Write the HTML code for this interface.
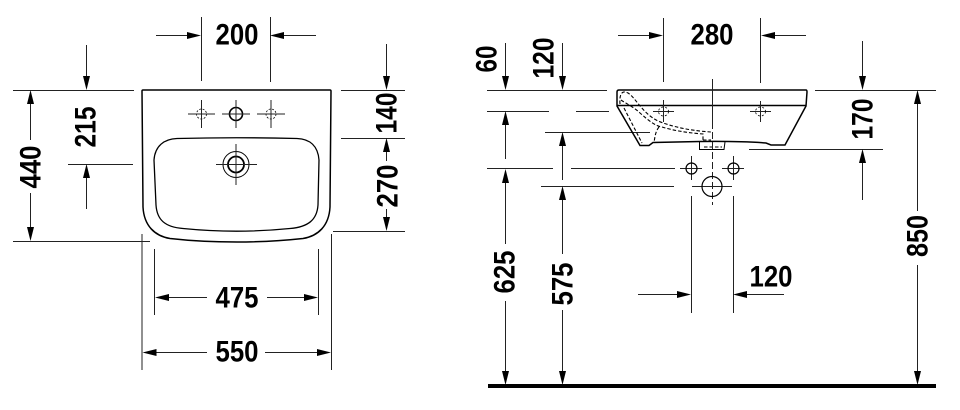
<!DOCTYPE html>
<html><head><meta charset="utf-8"><style>
html,body{margin:0;padding:0;background:#fff}
svg{display:block}
text{font-family:"Liberation Sans",sans-serif;font-weight:bold;font-size:29.5px;fill:#000;text-anchor:middle}
</style></head><body>
<svg width="960" height="410" viewBox="0 0 960 410" xmlns="http://www.w3.org/2000/svg">
<g fill="none" stroke="#222" stroke-width="1">
<!-- left ext lines -->
<path d="M201.500 17V81M270.500 17V82M13 90.500H134M13 241.500H150M68 164.500H133M341 90.500H405M341 138.500H405M333 231.500H405M154.500 249V315M318.500 249V315M142 234V370M331.500 234V370"/>
<!-- left dim lines -->
<path d="M156 35.500H190M316 35.500H282M30.500 100V140M30.500 193V230M86.500 45V80M86.500 175V209M386.500 44V80M386.500 148V161M386.500 209V222M165 297.500H207M267 297.500H307M155 352.500H207M265 352.500H320"/>
<!-- right ext lines -->
<path d="M663.500 18V82M760.500 18V83M487 90.500H607M487 111.500H549M576 111.500H609M545 132.500H650M487 168.500H553M571 168.500H675M541 186.500H674M815 90.500H936M749 149.500H883M691.500 196V313M733.500 196V313"/>
<!-- right dim lines -->
<path d="M618 35.500H652M806 35.500H772M505.500 43V80M562.500 43V80M505.500 122V159M505.500 180V244M505.500 301V375M562.500 143V180M562.500 197V254M562.500 310V375M862.500 41V80M862.500 160V200M917.500 101V211M917.500 265V375M638 294.500H680M784 294.500H745"/>
</g>
<!-- arrowheads -->
<g fill="#000">
<path d="M201 35.500l-14-3.500v7zM270 35.500l14-3.500v7zM30.500 90l-3.500 14h7zM30.500 241l-3.500-14h7zM86.500 90l-3.500-14h7zM86.500 164l-3.500 14h7zM386.500 90l-3.500-14h7zM386.500 138l-3.500 14h7zM386.500 231l-3.500-14h7zM155 297.500l14-3.500v7zM318 297.500l-14-3.500v7zM142.500 352.500l14-3.500v7zM331 352.500l-14-3.500v7z"/>
<path d="M663 35.500l-14-3.500v7zM761 35.500l14-3.500v7zM505.500 90l-3.500-14h7zM562.500 90l-3.500-14h7zM505.500 111l-3.500 14h7zM505.500 169l-3.500 14h7zM562.500 132l-3.500 14h7zM562.500 186l-3.500 14h7zM505.500 385l-3.500-14h7zM562.500 385l-3.500-14h7zM862.500 90l-3.500-14h7zM862.500 149l-3.500 14h7zM917.500 90l-3.500 14h7zM917.500 385l-3.500-14h7zM691 294.500l-14-3.500v7zM733 294.500l14-3.500v7z"/>
</g>
<!-- ground -->
<rect x="488" y="384" width="448" height="4" fill="#000"/>
<!-- left basin -->
<g fill="none" stroke="#000">
<path stroke-width="1.500" d="M143 207L142 91Q142 90 143 90H330Q331 90 331 91L330 207C329 226 318 236 303 238.500C280 241 258 242 237 242C215 242 192 241 170 238.500C155 236 144 226 143 207Z"/>
<path stroke-width="1.300" d="M154 160C155 146 164 139 177 138.500Q236 137 297 138.500C310 139 318 146 319 160L318 205C317 220 308 227 290 228.500C255 232 218 232 183 228.500C165 227 157 220 156 205Z"/>
<circle cx="236" cy="114" r="6.500" stroke-width="1.600"/>
<circle cx="201.500" cy="114" r="5" stroke-width=".8" stroke-dasharray="2 1.500"/>
<circle cx="271" cy="114" r="5" stroke-width=".8" stroke-dasharray="2 1.500"/>
<circle cx="236" cy="164.500" r="13" stroke-width="1"/>
<circle cx="236" cy="164.500" r="8" stroke-width="1.800"/>
<path stroke="#222" stroke-width="1" d="M188 114H215M201.500 100V128M222 114H250M236 100V128M257 114H285M271 100V128M216 164.500H257M236 144V185"/>
</g>
<!-- right basin -->
<g fill="none" stroke="#000">
<path stroke-width="1.500" d="M619 90H806Q807 90 807 92L806 106L785 145H771L766 143Q740 141 700 141.500L653 142.500L649 145.500H640L617 106V92Q617 90 619 90Z"/>
<path stroke-width="1.500" d="M617 105.500H806"/>
<path stroke-width="1" d="M699.500 142V149.500H724L725 142"/>
<path stroke-width="1.100" stroke-dasharray="3.500 2" d="M620 104C619 93 623 90 628 93C636 98 642 113 658 121C675 128 695 131 711 132M621 100C625 103 634 107 640 113C648 120 655 126 662 127C675 131 690 133 703 134L703 140M624 108L642 143M659 127C655 132 655 138 654 142M703 140H711M704 147H722"/>
<path stroke="#222" stroke-width="1" d="M712.500 79V122"/>
<path stroke="#222" stroke-width="1" stroke-dasharray="7 3" d="M712.500 122V205"/>
<path stroke="#222" stroke-width="1" d="M653 111.500H674M663.500 100V122M750 111.500H771M760.500 101V122M680 168.500H702M691.500 156V180M722 168.500H744M733.500 156V180M692 186.500H732"/>
<circle cx="691.500" cy="168.500" r="5.500" stroke-width="1.200"/>
<circle cx="733.500" cy="168.500" r="5.500" stroke-width="1.200"/>
<circle cx="712" cy="186.500" r="10" stroke-width="1.200"/>
<ellipse cx="663.500" cy="111.500" rx="5" ry="4.500" stroke-width=".8" stroke-dasharray="2 2"/>
<ellipse cx="760.500" cy="111.500" rx="5" ry="4.500" stroke-width=".8" stroke-dasharray="2 2"/>
</g>
<!-- labels -->
<text x="237" y="44.500" textLength="43" lengthAdjust="spacingAndGlyphs">200</text>
<text x="237" y="307.500" textLength="43" lengthAdjust="spacingAndGlyphs">475</text>
<text x="237" y="361.500" textLength="43" lengthAdjust="spacingAndGlyphs">550</text>
<text x="712" y="44.500" textLength="43" lengthAdjust="spacingAndGlyphs">280</text>
<text x="771" y="286.500" textLength="43" lengthAdjust="spacingAndGlyphs">120</text>
<text transform="translate(40.500,167) rotate(-90)" textLength="43" lengthAdjust="spacingAndGlyphs">440</text>
<text transform="translate(95.500,127) rotate(-90)" textLength="41" lengthAdjust="spacingAndGlyphs">215</text>
<text transform="translate(396.500,113) rotate(-90)" textLength="41" lengthAdjust="spacingAndGlyphs">140</text>
<text transform="translate(397.500,186) rotate(-90)" textLength="43" lengthAdjust="spacingAndGlyphs">270</text>
<text transform="translate(496.500,59) rotate(-90)" textLength="27" lengthAdjust="spacingAndGlyphs">60</text>
<text transform="translate(553.500,58) rotate(-90)" textLength="41" lengthAdjust="spacingAndGlyphs">120</text>
<text transform="translate(872.500,119) rotate(-90)" textLength="41" lengthAdjust="spacingAndGlyphs">170</text>
<text transform="translate(514.500,272) rotate(-90)" textLength="43" lengthAdjust="spacingAndGlyphs">625</text>
<text transform="translate(572.500,284) rotate(-90)" textLength="43" lengthAdjust="spacingAndGlyphs">575</text>
<text transform="translate(927.500,236) rotate(-90)" textLength="42" lengthAdjust="spacingAndGlyphs">850</text>
</svg>
</body></html>
